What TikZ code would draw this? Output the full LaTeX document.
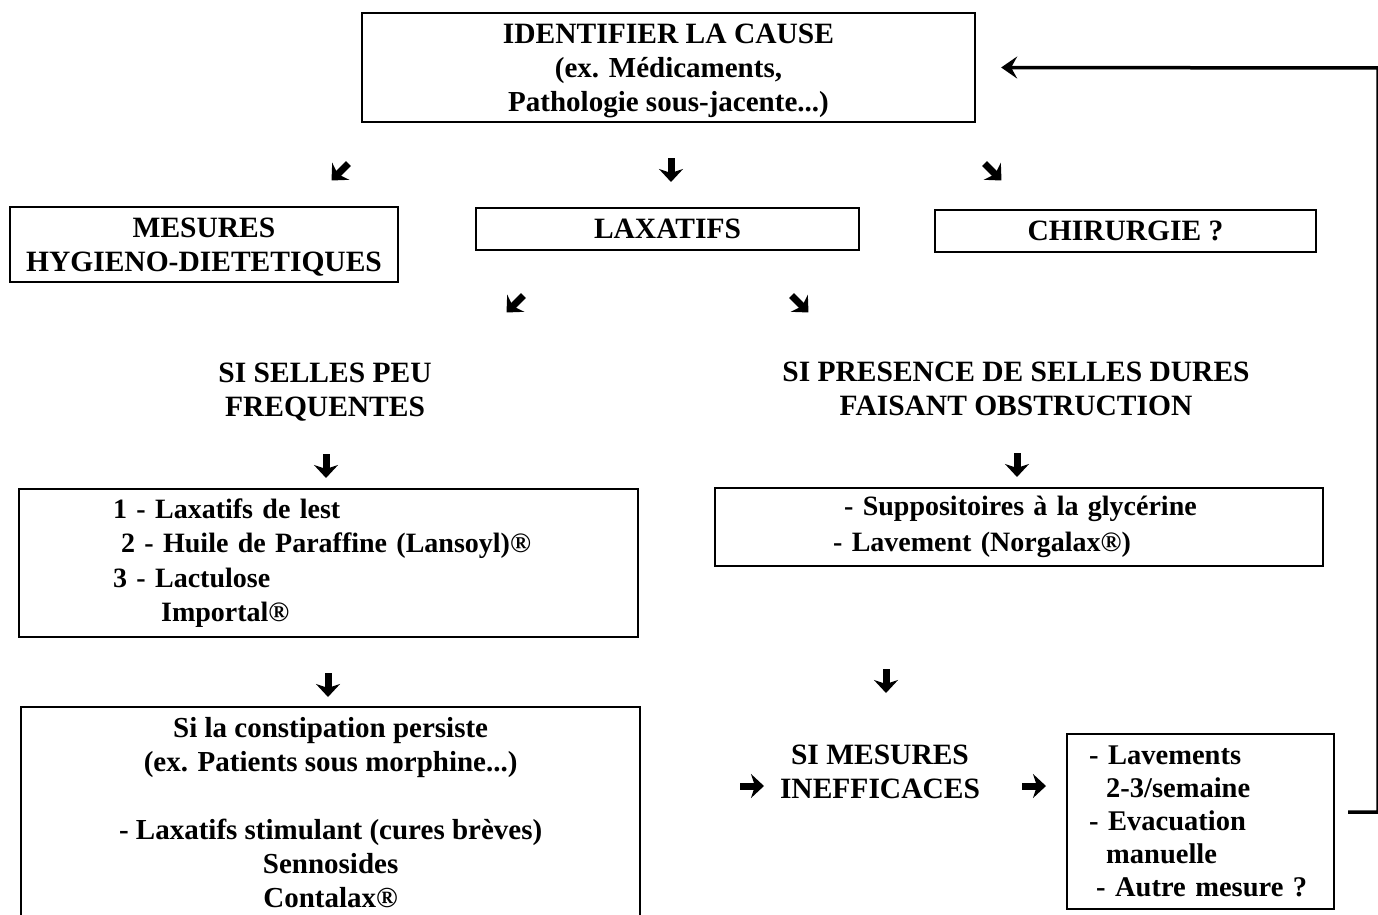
\documentclass[tikz,border=0pt]{standalone}
\usepackage{fontspec}
\setmainfont{Liberation Serif}
\usetikzlibrary{arrows.meta,calc}
\begin{document}
\begin{tikzpicture}[x=1pt,y=-1pt,
  box/.style={draw, line width=2.3pt, inner sep=0pt},
  txt/.style={font=\fontsize{29}{34}\selectfont\bfseries, align=center},
  cc/.style={text depth=0pt},
  caps/.style={font=\fontsize{29.5}{34}\selectfont\bfseries},
  small/.style={font=\fontsize{28}{34.5}\selectfont\bfseries},
  garrow/.style={line width=7pt, -{Stealth[length=13pt,width=24pt,inset=4pt]}},
  gly/.pic={\draw[garrow] (0,-12) -- (0,12);},
  fb/.style={line width=3.5pt}]
\useasboundingbox (0,0) rectangle (1378,915);
\clip (0,0) rectangle (1378,915);

% boxes
\node[box,txt,cc,minimum width=613pt,minimum height=109pt] (cause) at (668.5,67.5)
  {{\fontsize{29.5}{33}\selectfont IDENTIFIER LA CAUSE}\\(ex. Médicaments,\\Pathologie sous-jacente...)};
\node[box,txt,cc,caps,minimum width=388pt,minimum height=75pt] (hyg) at (204,244.5)
  {MESURES\\HYGIENO-DIETETIQUES};
\node[box,txt,cc,caps,minimum width=383pt,minimum height=42pt] (lax) at (667.5,229) {LAXATIFS};
\node[box,txt,cc,caps,minimum width=381pt,minimum height=42pt] (chir) at (1125.5,231) {CHIRURGIE ?};

\node[txt,cc,caps] (peu) at (325,390) {SI SELLES PEU\\FREQUENTES};
\node[txt,cc,caps] (dures) at (1016,389) {SI PRESENCE DE SELLES DURES\\FAISANT OBSTRUCTION};

\node[box,txt,small,align=left,anchor=north west,text width=431pt,inner xsep=94pt,minimum height=148pt] (lest) at (18,488)
  {1 - Laxatifs de lest\\\hspace*{8pt}2 - Huile de Paraffine (Lansoyl)®\\3 - Lactulose\\\hspace*{48pt}Importal®};
\node[box,txt,small,align=left,anchor=north west,text width=372pt,inner xsep=118pt,minimum height=78pt,
  font=\fontsize{28}{36}\selectfont\bfseries] (supp) at (714,487)
  {\hspace*{11pt}- Suppositoires à la glycérine\\- Lavement (Norgalax®)};

\node[box,txt,cc,anchor=north west,minimum width=619pt,minimum height=211pt] (stim) at (20,706)
  {Si la constipation persiste\\(ex. Patients sous morphine...)\\[34pt]- Laxatifs stimulant (cures brèves)\\Sennosides\\Contalax®};

\node[txt,cc,caps] (ineff) at (880,772) {SI MESURES\\INEFFICACES};

\node[box,txt,align=left,anchor=north west,text width=223pt,inner xsep=22pt,minimum height=175pt,
  font=\fontsize{28.5}{33}\selectfont\bfseries] (lav) at (1066,733)
  {- Lavements\\\hspace*{17pt}2-3/semaine\\- Evacuation\\\hspace*{17pt}manuelle\\\hspace*{7pt}- Autre mesure ?};

% glyph arrows
\pic[rotate=-45] at (340,172) {gly};
\pic at (671,170) {gly};
\pic[rotate=45] at (993,172) {gly};
\pic[rotate=-45] at (515,304) {gly};
\pic[rotate=45] at (800,304) {gly};
\pic at (326,466) {gly};
\pic at (1017,465) {gly};
\pic at (328,685) {gly};
\pic at (886,681) {gly};
\pic[rotate=90] at (752,786) {gly};
\pic[rotate=90] at (1034,786) {gly};

% feedback loop
\coordinate (fbs) at (1348,812);
\coordinate (fbc) at (1378,68);
\draw[fb,line join=miter,-{Stealth[length=16pt,width=22pt,inset=6pt]}]
  (fbs) -| (fbc) -- ([xshift=25pt]cause.east);
\end{tikzpicture}
\end{document}
